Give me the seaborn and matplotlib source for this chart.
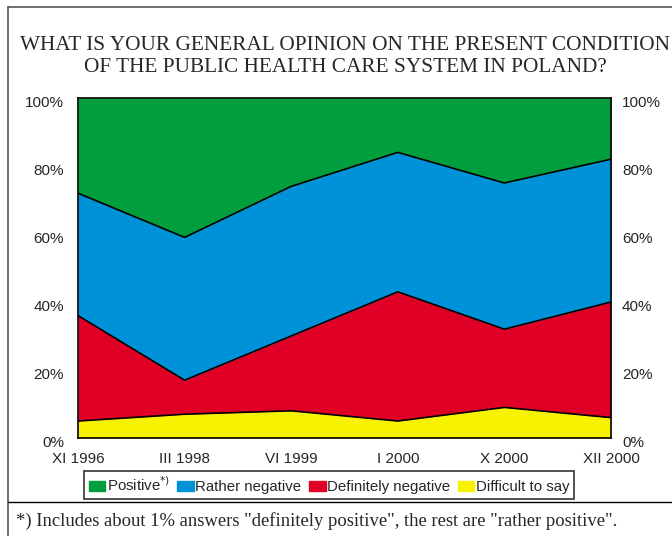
import matplotlib
matplotlib.use("Agg")
import matplotlib.pyplot as plt
import matplotlib.lines as mlines
import matplotlib.patches as mpatches
from matplotlib.transforms import ScaledTranslation
import numpy as np
import pandas as pd
import seaborn as sns

# Survey waves and answer shares (%)
waves = ["XI 1996", "III 1998", "VI 1999", "I 2000", "X 2000", "XII 2000"]
difficult = [5, 7, 8, 5, 9, 6]
definitely_negative = [31, 10, 22, 38, 23, 34]
rather_negative = [36, 42, 44, 41, 43, 42]
positive = [28, 41, 26, 16, 25, 18]

labels = ["Difficult to say", "Definitely negative", "Rather negative", "Positive"]
colors = ["#F7F200", "#E00025", "#0092D8", "#009E3C"]

sns.set_theme(style="white")
plt.rcParams["font.family"] = ["Liberation Sans", "DejaVu Sans"]

fig = plt.figure(figsize=(6.72, 5.36), dpi=100)
ax = fig.add_axes([78 / 672, 1 - 438 / 536, (611 - 78) / 672, (438 - 98) / 536])

x = np.arange(len(waves))
series = [difficult, definitely_negative, rather_negative, positive]
ax.stackplot(x, *series, colors=colors, linewidth=0)

# Boundary lines between the stacked bands
cum = np.cumsum(np.array(series), axis=0)
df = pd.DataFrame({"x": np.tile(x, 3),
                   "y": np.concatenate([cum[0], cum[1], cum[2]]),
                   "band": np.repeat(["a", "b", "c"], len(x))})
sns.lineplot(data=df, x="x", y="y", units="band", estimator=None,
             color="black", linewidth=1.2, ax=ax, legend=False)

ax.set_xlim(0, len(waves) - 1)
ax.set_ylim(0, 100)
ax.set_xlabel("")
ax.set_ylabel("")
ax.set_xticks(x)
ax.set_xticklabels(waves, fontsize=11)
yt = [0, 20, 40, 60, 80, 100]
ax.set_yticks(yt)
ax.set_yticklabels([f"{v}%" for v in yt], fontsize=11)
ax.tick_params(axis="y", length=0, pad=10)
ax.tick_params(axis="x", length=0, pad=10)
for s in ax.spines.values():
    s.set_visible(True)
    s.set_color("black")
    s.set_linewidth(1.2)

ax2 = ax.twinx()
ax2.set_ylim(0, 100)
ax2.set_yticks(yt)
ax2.set_yticklabels([f"{v}%" for v in yt], fontsize=11)
ax2.tick_params(axis="y", length=0, pad=8)
ax2.grid(False)
for s in ax2.spines.values():
    s.set_visible(False)

# percentage labels sit a touch below their level
shift = ScaledTranslation(0, -2.5 / 72, fig.dpi_scale_trans)
for lab in ax.get_yticklabels() + ax2.get_yticklabels():
    lab.set_transform(lab.get_transform() + shift)

# Title
title_font = dict(ha="center", va="center", fontsize=15.3, family="Liberation Serif")
fig.text(345 / 672, 1 - 45 / 536,
         "WHAT IS YOUR GENERAL OPINION ON THE PRESENT CONDITION", **title_font)
fig.text(345 / 672, 1 - 68 / 536,
         "OF THE PUBLIC HEALTH CARE SYSTEM IN POLAND?", **title_font)

# Legend
handles = [mpatches.Patch(color=colors[3], label="Positive$^{*)}$"),
           mpatches.Patch(color=colors[2], label="Rather negative"),
           mpatches.Patch(color=colors[1], label="Definitely negative"),
           mpatches.Patch(color=colors[0], label="Difficult to say")]
leg = fig.legend(handles=handles, loc="center", bbox_to_anchor=(329 / 672, 1 - 485 / 536),
                 ncol=4, fontsize=10.8, frameon=True, fancybox=False,
                 handlelength=1.1, handleheight=0.7, handletextpad=0.1,
                 columnspacing=0.5, borderpad=0.3, borderaxespad=0)
leg.get_frame().set_edgecolor("black")
leg.get_frame().set_linewidth(1.2)

# Frame lines and footnote
fig.add_artist(mlines.Line2D([8 / 672, 8 / 672], [0, 1 - 7 / 536], color="#555555", lw=1.2))
fig.add_artist(mlines.Line2D([8 / 672, 1], [1 - 7 / 536, 1 - 7 / 536], color="#555555", lw=1.2))
fig.add_artist(mlines.Line2D([8 / 672, 1], [1 - 502 / 536, 1 - 502 / 536], color="black", lw=1.0))
fig.text(16 / 672, 1 - 521 / 536,
         '*) Includes about 1% answers "definitely positive", the rest are "rather positive".',
         ha="left", va="center", fontsize=13.4, family="Liberation Serif")

fig.savefig("out.png", dpi=100)
